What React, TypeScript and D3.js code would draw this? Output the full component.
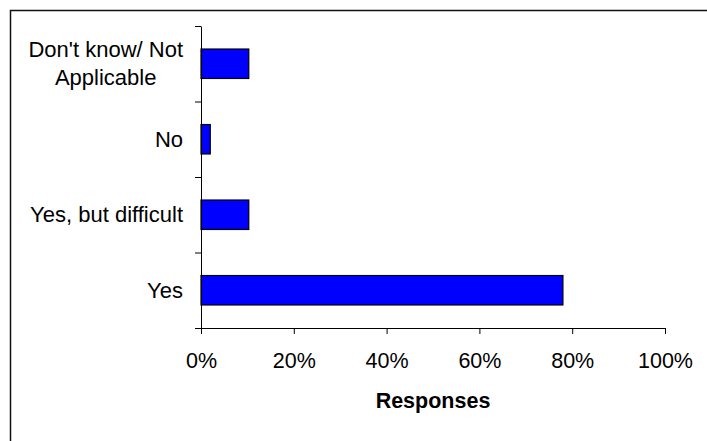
import * as d3 from "d3";
import { useEffect, useRef } from "react";

const categories = ["Don't know/ Not Applicable", "No", "Yes, but difficult", "Yes"];
const categoryLines = [["Don't know/ Not", "Applicable"], ["No"], ["Yes, but difficult"], ["Yes"]];
const responses = [0.103, 0.02, 0.103, 0.78];
const xTicks = [0, 0.2, 0.4, 0.6, 0.8, 1];
const axisTitle = "Responses";

const App = () => {
  const svgRef = useRef(null);

  const width = 707;
  const height = 441;

  useEffect(() => {
    const svg = d3.select(svgRef.current);
    svg.selectAll("*").remove();

    const margin = { top: 26, left: 201, right: 42, bottom: 113 };
    const font = "'Liberation Sans', Arial, sans-serif";

    // chart frame (cropped on the right and bottom)
    svg
      .append("rect")
      .attr("x", 10.5)
      .attr("y", 10.5)
      .attr("width", 900)
      .attr("height", 900)
      .attr("fill", "white")
      .attr("stroke", "#111")
      .attr("stroke-width", 1.5);

    const xScale = d3
      .scaleLinear()
      .domain([0, 1])
      .range([margin.left, width - margin.right]);

    const yScale = d3
      .scaleBand()
      .domain(categories)
      .range([margin.top, height - margin.bottom])
      .padding(0);

    const bound = d3
      .scaleLinear()
      .domain([0, categories.length])
      .range([margin.top, height - margin.bottom]);

    const barH = yScale.bandwidth() * 0.39;

    svg
      .append("g")
      .selectAll("rect")
      .data(categories)
      .join("rect")
      .attr("x", xScale(0))
      .attr("y", (d) => yScale(d)! + yScale.bandwidth() / 2 - barH / 2)
      .attr("width", (_, i) => xScale(responses[i]) - xScale(0))
      .attr("height", barH)
      .attr("fill", "#0000ff")
      .attr("stroke", "#000")
      .attr("stroke-width", 1.2);

    const xAxis = svg
      .append("g")
      .attr("transform", "translate(0," + (height - margin.bottom) + ")")
      .call(
        d3
          .axisBottom(xScale)
          .tickValues(xTicks)
          .tickFormat(d3.format(".0%") as any)
          .tickSize(6)
          .tickPadding(19)
          .tickSizeOuter(0)
      );

    const yAxis = svg
      .append("g")
      .attr("transform", "translate(" + margin.left + ",0)")
      .call(
        d3
          .axisLeft(bound)
          .tickValues(d3.range(categories.length + 1))
          .tickFormat(() => "")
          .tickSize(6)
          .tickSizeOuter(0)
      );

    [xAxis, yAxis].forEach((g) => {
      g.select(".domain").attr("stroke", "#000");
      g.selectAll(".tick line").attr("stroke", "#000");
      g.selectAll("text")
        .attr("font-family", font)
        .attr("font-size", 21.5)
        .attr("fill", "#000");
    });

    // category labels, multi-line ones centred on each other
    const labelRight = margin.left - 18;
    const lineGap = 28;
    categoryLines.forEach((lines, i) => {
      const cy = yScale(categories[i])! + yScale.bandwidth() / 2;
      const texts = lines.map((line, j) =>
        svg
          .append("text")
          .attr("y", cy + (j - (lines.length - 1) / 2) * lineGap)
          .attr("dy", "0.35em")
          .attr("font-family", font)
          .attr("font-size", 22)
          .attr("fill", "#000")
          .text(line)
      );
      const widest = d3.max(texts, (t) => (t.node() as SVGTextElement).getComputedTextLength()) || 0;
      texts.forEach((t) => t.attr("x", labelRight - widest / 2).attr("text-anchor", "middle"));
    });

    svg
      .append("text")
      .attr("x", (xScale(0) + xScale(1)) / 2)
      .attr("y", 408)
      .attr("text-anchor", "middle")
      .attr("font-family", font)
      .attr("font-size", 21.5)
      .attr("font-weight", "bold")
      .attr("fill", "#000")
      .text(axisTitle);
  }, []);

  return (
    <svg
      ref={svgRef}
      width={width}
      height={height}
      style={{ position: "absolute", left: 0, top: 0 }}
    />
  );
};

export default App;
